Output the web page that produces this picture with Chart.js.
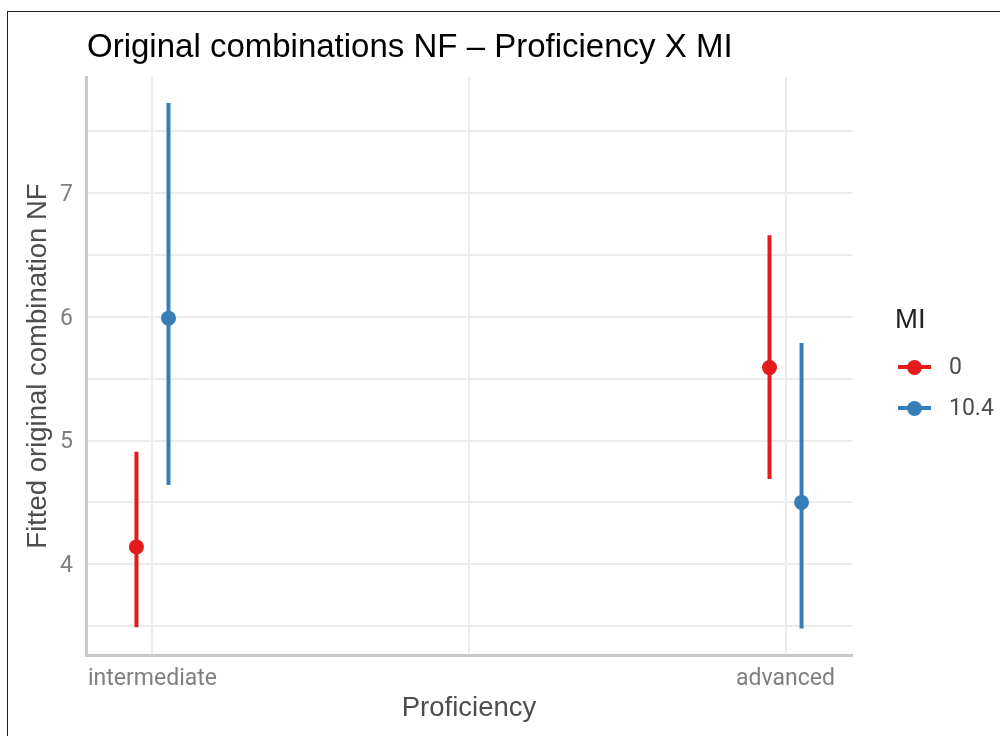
<!DOCTYPE html>
<html>
<head>
<meta charset="utf-8">
<script src="https://cdn.jsdelivr.net/npm/chart.js@4"></script>
<style>
  body { margin: 0; background: #fff; font-family: "Liberation Sans", Arial, sans-serif; }
  #wrap { position: relative; width: 1000px; height: 736px; overflow: hidden; }
  #frame { position: absolute; left: 7px; top: 11px; width: 1100px; height: 800px; border: 1.5px solid #222; box-sizing: border-box; }
  #chart { position: absolute; left: 0; top: 0; }
  #title { position: absolute; left: 87px; top: 29px; font-size: 33px; line-height: 1; color: #000; white-space: nowrap; }
  .leg { position: absolute; white-space: nowrap; line-height: 1; }
  .key { position: absolute; left: 898px; width: 33px; height: 4px; }
  .dot { position: absolute; left: 906.5px; width: 15px; height: 15px; border-radius: 50%; }
</style>
</head>
<body>
<div id="wrap">
  <div id="frame"></div>
  <canvas id="chart" width="1000" height="736"></canvas>
  <div id="title">Original combinations NF – Proficiency X MI</div>
  <div id="legend"></div>
</div>
<script>
// data
const categories = ['intermediate', 'advanced'];
const groups = ['0', '10.4'];
const groupColors = ['#E41A1C', '#377EB8'];
const fitted = [[4.14, 5.59], [5.99, 4.50]];
const lower = [[3.49, 4.69], [4.64, 3.48]];
const upper = [[4.91, 6.66], [7.73, 5.79]];
const yTicks = [3.5, 4, 4.5, 5, 5.5, 6, 6.5, 7, 7.5];
const xTicks = [1, 1.5, 2];
const dodge = 0.0253;

const tickFont = {family: 'Roboto', size: 23};

const datasets = [];
groups.forEach(function (g, gi) {
  const off = gi === 0 ? -dodge : dodge;
  categories.forEach(function (c, ci) {
    datasets.push({
      type: 'line',
      data: [{x: ci + 1 + off, y: lower[gi][ci]}, {x: ci + 1 + off, y: upper[gi][ci]}],
      borderColor: groupColors[gi],
      borderWidth: 4,
      pointRadius: 0,
      order: 2
    });
  });
  datasets.push({
    type: 'scatter',
    data: categories.map(function (c, ci) { return {x: ci + 1 + off, y: fitted[gi][ci]}; }),
    backgroundColor: groupColors[gi],
    borderColor: groupColors[gi],
    borderWidth: 0,
    pointRadius: 7.5,
    order: 1
  });
});

new Chart(document.getElementById('chart'), {
  type: 'scatter',
  data: {datasets: datasets},
  options: {
    responsive: false,
    animation: false,
    layout: {padding: {top: 77, right: 148, left: 0, bottom: 0}},
    plugins: {legend: {display: false}, title: {display: false}, tooltip: {enabled: false}},
    scales: {
      x: {
        type: 'linear',
        min: 0.895,
        max: 2.105,
        afterBuildTicks: function (s) { s.ticks = xTicks.map(function (v) { return {value: v}; }); },
        afterFit: function (s) { s.height = 81; },
        ticks: {
          padding: 10,
          color: '#7f7f7f',
          font: tickFont,
          callback: function (v) { return Number.isInteger(v) ? categories[v - 1] : ''; }
        },
        grid: {color: '#ebebeb', lineWidth: 2, drawTicks: false},
        border: {display: true, color: '#c8c8c8', width: 3},
        title: {
          display: true, text: 'Proficiency', color: '#4d4d4d',
          font: {family: 'Liberation Sans', size: 27.5}, padding: {top: 0, bottom: 11}
        }
      },
      y: {
        min: 3.266,
        max: 7.94,
        afterBuildTicks: function (s) { s.ticks = yTicks.map(function (v) { return {value: v}; }); },
        afterFit: function (s) { s.width = 86; },
        ticks: {
          padding: 13,
          labelOffset: 2,
          color: '#7f7f7f',
          font: tickFont,
          callback: function (v) { return Number.isInteger(v) ? String(v) : ''; }
        },
        grid: {color: '#ebebeb', lineWidth: 2, drawTicks: false},
        border: {display: true, color: '#c8c8c8', width: 3},
        title: {
          display: true, text: 'Fitted original combination NF', color: '#4d4d4d',
          font: {family: 'Liberation Sans', size: 27.5}, padding: {top: 22, bottom: 0}
        }
      }
    }
  }
});

// legend (ggplot style, on the right)
const legend = document.getElementById('legend');
let html = '<div class="leg" style="left:895px;top:305px;font-size:27.5px;color:#222;">MI</div>';
const rowY = [367, 408];
groups.forEach(function (g, gi) {
  html += '<div class="key" style="top:' + (rowY[gi] - 2) + 'px;background:' + groupColors[gi] + '"></div>';
  html += '<div class="dot" style="top:' + (rowY[gi] - 7.5) + 'px;background:' + groupColors[gi] + '"></div>';
  html += '<div class="leg" style="left:949px;top:' + (rowY[gi] - 12) + 'px;font-family:Roboto;font-size:23px;color:#4d4d4d;">' + g + '</div>';
});
legend.innerHTML = html;
</script>
</body>
</html>
